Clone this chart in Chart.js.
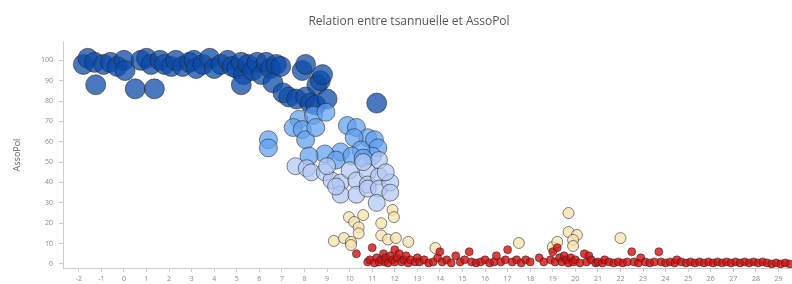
<!DOCTYPE html>
<html>
<head>
<meta charset="utf-8">
<script src="https://cdn.jsdelivr.net/npm/chart.js@4/dist/chart.umd.min.js"></script>
<style>
  html, body { margin: 0; padding: 0; background: #fff; }
</style>
</head>
<body>
<canvas id="assoChart" width="792" height="284"></canvas>
<script>
// points [tsannuelle, AssoPol] par classe
const classeTresForte = [
    [-1.8, 98], [-1.6, 101], [-1.3, 99], [-1.25, 88], [-0.9, 98], [-0.6, 99], [-0.3, 97],
    [0.0, 100], [0.05, 95], [0.5, 86], [0.75, 100], [1.0, 101], [1.2, 98], [1.35, 86],
    [1.6, 100], [1.8, 98], [2.1, 97], [2.3, 100], [2.6, 97], [2.9, 99], [3.1, 100], [3.2, 96],
    [3.5, 98], [3.8, 101], [4.0, 96], [4.3, 98], [4.6, 100], [4.8, 97], [5.0, 96], [5.2, 99],
    [5.3, 93], [5.2, 88], [5.5, 98], [5.7, 95], [5.9, 99], [6.1, 93], [6.3, 99], [6.5, 96],
    [6.6, 89], [6.75, 98], [6.95, 97], [7.05, 84], [7.3, 82], [7.65, 81], [7.9, 95], [8.05, 98],
    [8.05, 82], [8.25, 79], [8.5, 78], [8.55, 88], [8.7, 90], [8.8, 93], [9.0, 81], [11.2, 79]
];
const classeForte = [
    [6.4, 61], [6.4, 57], [7.75, 71], [7.5, 67], [7.9, 66], [8.05, 61], [8.4, 73], [8.5, 67],
    [8.95, 74.5], [9.9, 68], [10.3, 67], [10.8, 62], [10.2, 62], [11.1, 61], [11.25, 57],
    [11.0, 53], [10.5, 56], [9.6, 55], [8.9, 54], [8.2, 53], [9.4, 51], [10.1, 53], [10.6, 52]
];
const classeMoyenne = [
    [7.6, 48], [8.1, 47], [8.3, 45], [8.9, 45], [9.2, 41], [9.6, 40], [9.6, 34], [9.4, 38],
    [10.0, 46], [10.3, 41], [10.3, 34], [10.8, 45], [10.8, 39], [10.8, 37], [11.3, 43],
    [11.3, 37], [11.2, 30], [11.3, 51], [11.8, 40], [11.8, 35], [9.0, 48], [10.6, 50], [11.6, 45]
];
const classeFaible = [
    [9.3, 11.3], [9.75, 12.7], [10.06, 10.8], [10.06, 9.3], [9.97, 23], [10.2, 20.6], [10.6, 24],
    [10.4, 18], [10.4, 15], [11.4, 20], [11.9, 26.5], [11.96, 23], [11.4, 14], [11.7, 12],
    [12.05, 12.7], [12.6, 10.8], [13.8, 7.8], [17.5, 10.3], [19.0, 8.3], [19.2, 10.8], [19.7, 25],
    [19.7, 15.7], [20.07, 14.2], [19.9, 11.8], [19.9, 8.8], [22.0, 12.7]
];
const classeNulle = [
    [10.3, 5], [10.8, 1], [10.9, 2], [11.0, 8], [11.1, 0.5], [11.2, 3], [11.3, 1], [11.4, 2],
    [11.5, 5], [11.55, 1], [11.6, 3], [11.7, 0.5], [11.8, 4], [11.9, 2], [12.0, 7], [12.0, 1],
    [12.1, 3], [12.2, 5], [12.3, 1], [12.4, 2], [12.5, 4], [12.6, 0.5], [12.7, 2], [12.9, 1],
    [13.0, 3], [13.1, 1], [13.3, 2], [13.5, 0.5], [13.7, 1], [13.9, 3], [14.0, 6], [14.1, 1],
    [14.3, 2], [14.5, 0.5], [14.7, 4], [14.9, 1], [15.1, 2], [15.3, 6], [15.4, 1], [15.6, 0.5],
    [15.8, 1], [16.0, 2], [16.2, 0.5], [16.4, 1], [16.5, 4], [16.7, 1], [16.9, 2], [17.0, 7],
    [17.2, 1], [17.4, 2], [17.6, 0.5], [17.8, 2], [18.0, 1], [18.4, 3], [18.6, 1], [18.9, 2],
    [19.0, 6], [19.1, 1], [19.2, 8], [19.3, 3], [19.4, 1], [19.5, 4], [19.6, 2], [19.7, 0.5],
    [19.8, 3], [19.9, 1], [20.0, 2], [20.2, 0.5], [20.4, 5], [20.5, 1], [20.6, 4], [20.7, 2],
    [20.9, 0.5], [21.0, 1], [21.2, 0.5], [21.3, 2], [21.5, 1], [21.7, 0.5], [21.9, 1], [22.1, 0.5],
    [22.3, 1], [22.5, 6], [22.6, 1], [22.8, 0.5], [22.9, 3], [23.1, 1], [23.3, 0.5], [23.5, 1],
    [23.7, 6], [23.8, 1], [24.0, 0.5], [24.2, 1], [24.4, 0.5], [24.5, 2], [24.7, 1], [24.9, 0.5],
    [25.1, 1], [25.3, 0.5], [25.5, 1], [25.7, 0.5], [25.9, 1], [26.1, 0.5], [26.3, 1], [26.5, 0.5],
    [26.7, 1], [26.9, 0.5], [27.1, 1], [27.3, 0.5], [27.5, 1], [27.7, 0.5], [27.9, 1], [28.1, 0.5],
    [28.3, 1], [28.5, 0.5], [28.7, 0], [28.9, 0.5], [29.1, 0], [29.3, 0.5], [29.5, 0]
];

const titre = "Relation entre tsannuelle et AssoPol";
const police = "'Open Sans', sans-serif";

function points(liste) {
    return liste.map(p => ({ x: p[0], y: p[1] }));
}

function serie(liste, fond, rayon) {
    return {
        data: points(liste),
        backgroundColor: fond,
        borderColor: "rgba(35,35,35,0.55)",
        borderWidth: 1,
        pointRadius: rayon,
        pointHoverRadius: rayon
    };
}

const titrePlugin = {
    id: "titreCentre",
    afterDraw(chart) {
        const ctx = chart.ctx;
        ctx.save();
        ctx.font = "12px " + police;
        ctx.fillStyle = "#555";
        ctx.textAlign = "center";
        ctx.textBaseline = "middle";
        ctx.fillText(titre, 409, 22);
        ctx.restore();
    }
};

new Chart(document.getElementById("assoChart"), {
    type: "scatter",
    data: {
        datasets: [
            serie(classeNulle, "rgba(215,15,15,0.8)", 4),
            serie(classeFaible, "rgba(250,228,178,0.8)", 5.5),
            serie(classeMoyenne, "rgba(178,200,245,0.72)", 8.5),
            serie(classeForte, "rgba(95,160,240,0.72)", 9),
            serie(classeTresForte, "rgba(12,75,170,0.75)", 10)
        ]
    },
    plugins: [titrePlugin],
    options: {
        responsive: false,
        animation: false,
        devicePixelRatio: 1,
        layout: { autoPadding: false, padding: { top: 42, right: 0, left: 0, bottom: 0 } },
        plugins: {
            legend: { display: false },
            tooltip: { enabled: false }
        },
        scales: {
            x: {
                min: -2.7,
                max: 29.6,
                afterFit: scale => { scale.height = 16; },
                ticks: {
                    stepSize: 1,
                    includeBounds: false,
                    maxRotation: 0,
                    autoSkip: false,
                    padding: 3,
                    color: "#888",
                    font: { family: police, size: 7 }
                },
                grid: { drawOnChartArea: false, color: "#ccc", tickLength: 4 },
                border: { color: "#ccc" }
            },
            y: {
                min: -2,
                max: 109,
                afterFit: scale => { scale.width = 63; },
                ticks: {
                    stepSize: 10,
                    includeBounds: false,
                    padding: 6,
                    color: "#888",
                    font: { family: police, size: 7 }
                },
                grid: { drawOnChartArea: false, color: "#ccc", tickLength: 4 },
                border: { color: "#ccc" },
                title: {
                    display: true,
                    text: "AssoPol",
                    color: "#666",
                    font: { family: police, size: 9 },
                    padding: { top: 12, bottom: 0 }
                }
            }
        }
    }
});
</script>
</body>
</html>
